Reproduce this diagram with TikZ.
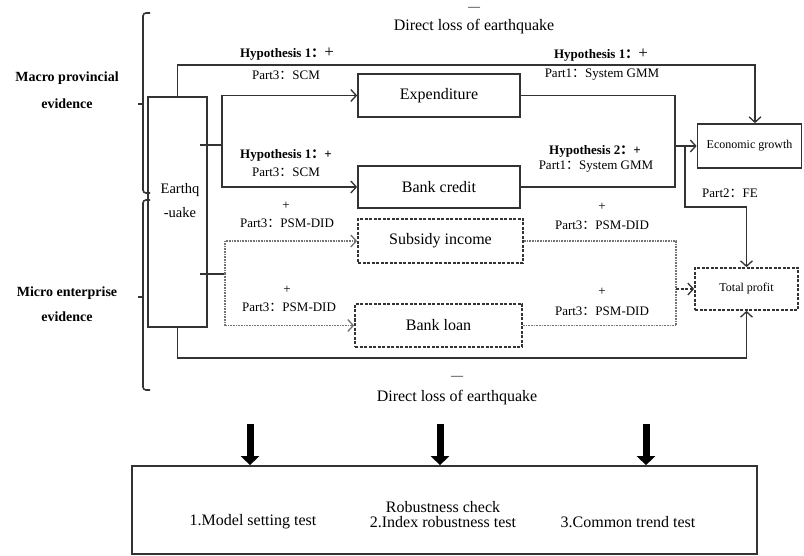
\documentclass[tikz,border=0pt]{standalone}
\usepackage{fontspec}
\setmainfont{Liberation Serif}
\newfontfamily\cjkfont{Noto Sans CJK SC}
\usetikzlibrary{arrows.meta,calc}
\newcommand{\fwcolon}{{\cjkfont ：}}
\newcommand{\bigplus}{{\mdseries\fontsize{17}{17}\selectfont +}}
\tikzset{
 ln/.style={line width=1.6pt, draw=black!80},
 arr/.style={ln, -{Straight Barb[length=5.5pt,width=12pt,line width=1.3pt]}},
 dotln/.style={line width=1.5pt, draw=black!55, dash pattern=on 0.8pt off 0.8pt},
 dotarr/.style={dotln, -{Straight Barb[length=5.5pt,width=12pt,line width=1.3pt]}},
 box/.style={draw=black!80, line width=1.7pt, inner sep=0pt, font=\fontsize{16}{18}\selectfont},
 dbox/.style={box, dash pattern=on 3pt off 1.5pt},
 lbl/.style={font=\fontsize{13}{15}\selectfont, inner sep=0pt},
 hyp/.style={font=\bfseries\fontsize{13}{15}\selectfont, inner sep=0pt},
 big/.style={font=\fontsize{16}{18}\selectfont, inner sep=0pt},
 minus/.style={font=\fontsize{12}{12}\selectfont, inner sep=0pt},
 side/.style={font=\bfseries\fontsize{14}{27}\selectfont, align=center, inner sep=0pt},
 bigarr/.style={line width=7pt, draw=black, -{Triangle[length=9pt,width=18pt]}},
}
\begin{document}
\begin{tikzpicture}[x=1pt,y=-1pt]
\useasboundingbox (0,0) rectangle (804,556);
% braces
\draw[ln, rounded corners=3pt] (150,13) -- (143,13) -- (143,193) -- (150,193);
\draw[ln] (138,104) -- (143,104);
\draw[ln, rounded corners=3pt] (150,200) -- (143,200) -- (143,390) -- (150,390);
\draw[ln] (138,297) -- (143,297);
\node[side] (macro) at (67,90.5) {Macro provincial\\evidence};
\node[side, font=\bfseries\fontsize{14}{25}\selectfont] (micro) at (67,304.5) {Micro enterprise\\evidence};
% boxes
\node[box, minimum width=59pt, minimum height=230pt] (eq) at (177.5,212) {};
\node[font=\fontsize{14.5}{24}\selectfont, align=center, inner sep=0pt] (eqtext) at (180,201) {Earthq\\-uake};
\node[box, minimum width=162pt, minimum height=43pt] (exp) at (439,95.5) {Expenditure};
\node[box, minimum width=162pt, minimum height=42pt] (bc) at (439,187) {Bank credit};
\node[dbox, minimum width=165pt, minimum height=44pt] (sub) at (440.5,241) {Subsidy income};
\node[dbox, minimum width=167pt, minimum height=43pt] (bl) at (438.5,325.5) {Bank loan};
\node[box, minimum width=104pt, minimum height=44pt, font=\fontsize{12}{14}\selectfont] (eg) at (749.5,146) {Economic growth};
\node[dbox, minimum width=103pt, minimum height=42pt, font=\fontsize{12}{14}\selectfont] (tp) at (746.5,289) {Total profit};
\node[box, minimum width=625pt, minimum height=88pt] (rob) at (444.5,510) {};
% direct loss
\draw[arr] (eq.north) -- ++(0,-31) -| ([xshift=5.5pt]eg.north);
\draw[arr] (eq.south) -- ++(0,30) -| (tp.south);
\node[minus] (m1) at (474,9) {—};
\node[big] (dl1) at (474,27) {Direct loss of earthquake};
\node[minus] (m2) at (457,378) {—};
\node[big] (dl2) at (457,398) {Direct loss of earthquake};
% macro channels
\coordinate (t1) at (200,145);
\coordinate (j1) at (222,145);
\draw[ln] (t1) -- (j1);
\draw[arr] (j1) |- (exp.west);
\draw[arr] (j1) |- (bc.west);
\coordinate (j2) at (675,146);
\draw[ln] (exp.east) -| (j2);
\draw[ln] (bc.east) -| (j2);
\draw[arr] (j2) -- (eg.west);
\coordinate (j3) at (685,146);
\draw[arr] (j3) -- ++(0,61) -| (tp.north);
% micro channels
\coordinate (t2) at (200,274);
\coordinate (j4) at (225,274);
\draw[ln] (t2) -- (j4);
\draw[dotarr] (j4) |- (sub.west);
\draw[dotarr] (j4) |- (bl.west);
\coordinate (j5) at (676,289);
\draw[dotln] (sub.east) -| (j5);
\draw[dotln] (bl.east) -| (j5);
\draw[arr, dash pattern=on 3pt off 1.5pt] (j5) -- (tp.west);
% labels
\node[hyp] (h1a) at (287,54) {Hypothesis 1\fwcolon\bigplus};
\node[lbl] (p1a) at (286,75) {Part3\fwcolon SCM};
\node[hyp] (h1b) at (601,55) {Hypothesis 1\fwcolon\bigplus};
\node[lbl] (p1b) at (602,75) {Part1\fwcolon System GMM};
\node[hyp] (h1c) at (286,155) {Hypothesis 1\fwcolon +};
\node[lbl] (p1c) at (286,172) {Part3\fwcolon SCM};
\node[hyp] (h2) at (595,151) {Hypothesis 2\fwcolon +};
\node[lbl] (p2) at (596,167) {Part1\fwcolon System GMM};
\node[lbl] (pl1) at (286,206) {+};
\node[lbl] (pd1) at (287,223) {Part3\fwcolon PSM-DID};
\node[lbl] (pl2) at (602,207) {+};
\node[lbl] (pd2) at (602,225) {Part3\fwcolon PSM-DID};
\node[lbl] (pl3) at (287,290) {+};
\node[lbl] (pd3) at (289,307) {Part3\fwcolon PSM-DID};
\node[lbl] (pl4) at (602,292) {+};
\node[lbl] (pd4) at (602,311) {Part3\fwcolon PSM-DID};
\node[lbl] (fe) at (730,193) {Part2\fwcolon FE};
% robustness
\foreach \x/\n in {250/a1, 440/a2, 646/a3} {
  \coordinate (\n) at (\x,424);
  \draw[bigarr] (\n) -- (\n |- rob.north);
}
\node[big] (rc) at (443,507) {Robustness check};
\node[big] (r1) at (253,522) {1.Model setting test};
\node[big] (r2) at (443,522) {2.Index robustness test};
\node[big] (r3) at (628,522) {3.Common trend test};
\end{tikzpicture}
\end{document}
